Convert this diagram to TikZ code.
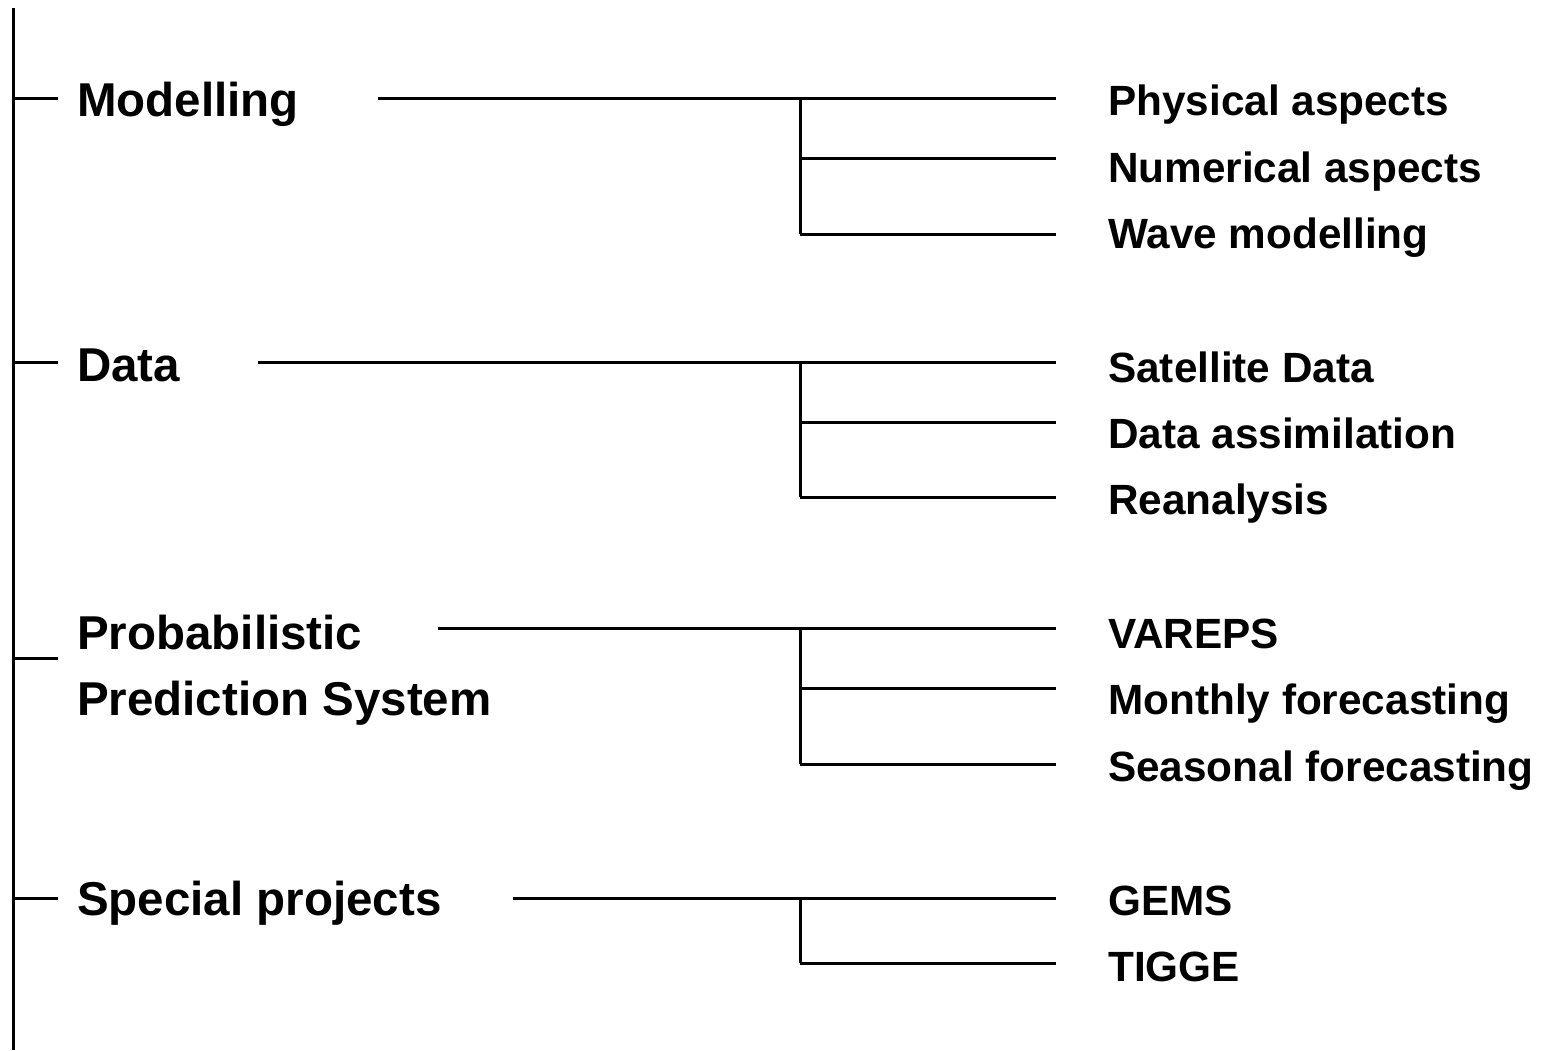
\documentclass[tikz,border=0pt]{standalone}
\usepackage{fontspec}
\setmainfont{Liberation Sans}
\begin{document}
\begin{tikzpicture}[x=1pt,y=-1pt,
  ln/.style={line width=3pt,black},
  mainlbl/.style={anchor=base west,inner sep=0pt,font=\bfseries\fontsize{47.5}{66}\selectfont},
  sublbl/.style={anchor=base west,inner sep=0pt,font=\bfseries\fontsize{42.3}{50}\selectfont}]
\useasboundingbox (0,0) rectangle (1548,1050);
% trunk
\coordinate (top) at (13,8);
\coordinate (bot) at (13,1050);
\draw[ln] (top) -- (bot);
% main labels
\node[mainlbl] (m1) at (77,116) {Modelling};
\node[mainlbl] (m2) at (77,381) {Data};
\node[mainlbl] (m3) at (77,649) {Probabilistic};
\node[mainlbl] (m3b) at (77,715) {Prediction System};
\node[mainlbl] (m4) at (77,915) {Special projects};
% sub labels
\node[sublbl] (s11) at (1108,115) {Physical aspects};
\node[sublbl] (s12) at (1108,182) {Numerical aspects};
\node[sublbl] (s13) at (1108,248) {Wave modelling};
\node[sublbl] (s21) at (1108,382) {Satellite Data};
\node[sublbl] (s22) at (1108,448) {Data assimilation};
\node[sublbl] (s23) at (1108,514) {Reanalysis};
\node[sublbl] (s31) at (1108,648) {VAREPS};
\node[sublbl] (s32) at (1108,714) {Monthly forecasting};
\node[sublbl] (s33) at (1108,781) {Seasonal forecasting};
\node[sublbl] (s41) at (1108,915) {GEMS};
\node[sublbl] (s42) at (1108,981) {TIGGE};
% stubs from trunk
\foreach \y/\n in {98/1,362/2,658/3,898/4}{
  \coordinate (t\n) at (13,\y);
  \coordinate (u\n) at (58,\y);
  \draw[ln] (t\n) -- (u\n);
}
% main lines
\coordinate (a1) at (378,98);  \coordinate (b1) at (1056,98);
\coordinate (a2) at (258,362); \coordinate (b2) at (1056,362);
\coordinate (a3) at (438,628); \coordinate (b3) at (1056,628);
\coordinate (a4) at (513,898); \coordinate (b4) at (1056,898);
\foreach \n in {1,2,3,4}{\draw[ln] (a\n) -- (b\n);}
% sub branches
\coordinate (v1t) at (800,98);  \coordinate (v1b) at (800,234);
\coordinate (v2t) at (800,362); \coordinate (v2b) at (800,497);
\coordinate (v3t) at (800,628); \coordinate (v3b) at (800,764);
\coordinate (v4t) at (800,898); \coordinate (v4b) at (800,963);
\foreach \n in {1,2,3,4}{\draw[ln] (v\n t) -- (v\n b);}
\foreach \y/\n in {158/1,234/2,422/3,497/4,688/5,764/6,963/7}{
  \coordinate (h\n a) at (800,\y);
  \coordinate (h\n b) at (1056,\y);
  \draw[ln] (h\n a) -- (h\n b);
}
\end{tikzpicture}
\end{document}
